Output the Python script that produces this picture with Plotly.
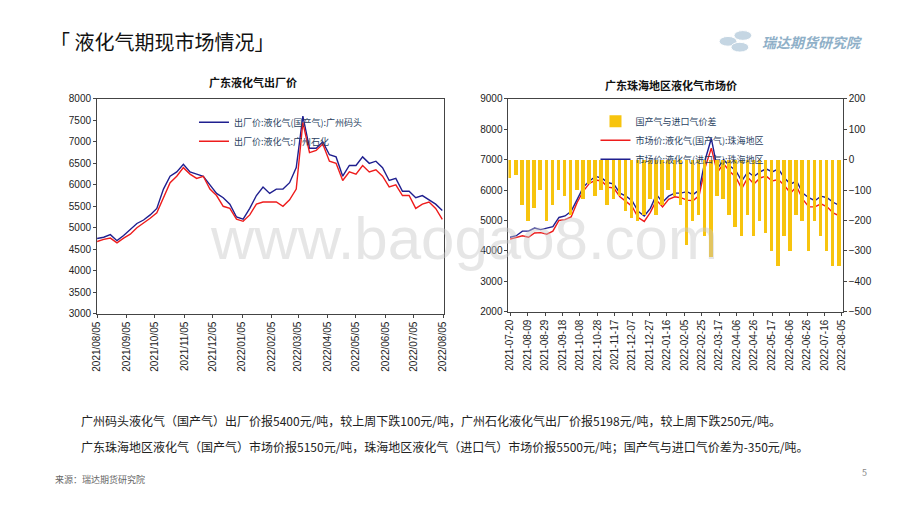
import pandas as pd
import plotly.graph_objects as go

FONT = "Noto Sans CJK SC"

# Left chart data (weekly)
left_dates = pd.date_range("2021-08-05", periods=53, freq="7D")
gz_dock = [4750,4780,4840,4700,4820,4950,5100,5180,5300,5450,5900,6200,6300,6480,6300,6250,6200,6000,5800,5700,
           5550,5250,5200,5450,5750,5950,5800,5900,5900,6050,6400,7600,6850,6850,7000,6700,6650,6200,6450,6450,
           6650,6500,6550,6400,6100,6150,5850,5850,5700,5750,5650,5550,5400]
gz_petro = [4680,4730,4760,4650,4760,4850,5000,5100,5220,5350,5700,6050,6200,6400,6250,6150,6200,5900,5750,5500,
            5450,5200,5150,5300,5550,5600,5600,5600,5500,5650,5900,7450,6750,6800,6950,6550,6500,6100,6300,6250,
            6450,6300,6350,6200,5950,6000,5750,5750,5450,5550,5600,5450,5198]
left_ticks = ["2021-08-05","2021-09-05","2021-10-05","2021-11-05","2021-12-05","2022-01-05","2022-02-05",
              "2022-03-05","2022-04-05","2022-05-05","2022-06-05","2022-07-05","2022-08-05"]

# Right chart data (weekly)
right_dates = pd.date_range("2021-07-20", periods=55, freq="7D")
zh_import = [4450,4500,4650,4650,4750,4700,4750,4800,5100,5150,5300,5700,6100,6300,6450,6400,6250,6200,5900,5800,
             5650,5300,5150,5400,5850,5600,5800,5900,5900,5950,5850,6000,7000,7700,6700,7000,6800,6650,6300,6600,
             6450,6600,6700,6600,6700,6400,6200,6300,5900,5750,5650,5800,5750,5600,5500]
spread = [-60,-50,-150,-200,-160,-100,-200,-150,-100,-120,-180,-100,-130,-80,-120,-100,-150,-130,-120,-170,
          -190,-200,-180,-130,-180,-150,-100,-120,-150,-280,-200,-180,-250,-320,-120,-130,-180,-220,-250,-180,
          -250,-200,-240,-300,-350,-250,-300,-180,-200,-300,-200,-250,-300,-350,-350]
zh_domestic = [a + b for a, b in zip(zh_import, spread)]
right_ticks = ["2021-07-20","2021-08-09","2021-08-29","2021-09-18","2021-10-08","2021-10-28","2021-11-17",
               "2021-12-07","2021-12-27","2022-01-16","2022-02-05","2022-02-25","2022-03-17","2022-04-06",
               "2022-04-26","2022-05-17","2022-06-06","2022-06-26","2022-07-16","2022-08-05"]

W, H, OFF = 904, 502, 8
def px(x): return (x - OFF) / W
def py(y): return 1 - (y - OFF) / H

fig = go.Figure()
fig.add_trace(go.Scatter(x=left_dates, y=gz_dock, name="出厂价:液化气(国产气):广州码头", mode="lines",
                         line=dict(color="#1f1f8f", width=1.4), xaxis="x", yaxis="y", legend="legend"))
fig.add_trace(go.Scatter(x=left_dates, y=gz_petro, name="出厂价:液化气:广州石化", mode="lines",
                         line=dict(color="#ee1c1c", width=1.4), xaxis="x", yaxis="y", legend="legend"))

fig.add_trace(go.Bar(x=right_dates, y=spread, name="国产气与进口气价差", marker=dict(color="#F7C40E", line_width=0),
                     width=4*86400000, xaxis="x2", yaxis="y3", legend="legend2"))
fig.add_trace(go.Scatter(x=right_dates, y=zh_domestic, name="市场价:液化气(国产气):珠海地区", mode="lines",
                         line=dict(color="#ee1c1c", width=1.4), xaxis="x2", yaxis="y2", legend="legend2"))
fig.add_trace(go.Scatter(x=right_dates, y=zh_import, name="市场价:液化气(进口气):珠海地区", mode="lines",
                         line=dict(color="#1f1f8f", width=1.4), xaxis="x2", yaxis="y2", legend="legend2"))

axfont = dict(family="Liberation Sans Narrow, Arial Narrow, Liberation Sans", size=10, color="#222")
common = dict(showline=True, linecolor="#444", linewidth=1, mirror=True, showgrid=False, ticks="outside",
              ticklen=3, tickcolor="#444", tickfont=axfont)

fig.update_layout(
    width=W, height=H, margin=dict(l=0, r=0, t=0, b=0),
    paper_bgcolor="white", plot_bgcolor="white", bargap=0, showlegend=True,
    font=dict(family=FONT),
    xaxis=dict(domain=[px(92), px(443)], anchor="y", type="date", range=["2021-08-05", "2022-08-06"],
               tickvals=left_ticks, ticktext=[t.replace("-", "/") for t in left_ticks], tickangle=-90, **common),
    yaxis=dict(domain=[py(315), py(95)], anchor="x", range=[3000, 8000], dtick=500, **common),
    xaxis2=dict(domain=[px(508), px(846)], anchor="y2", type="date", range=["2021-07-18", "2022-08-06"],
                tickvals=right_ticks, ticktext=right_ticks, tickangle=-90, **common),
    yaxis2=dict(domain=[py(313), py(95)], anchor="x2", range=[2000, 9000], dtick=1000, **common),
    yaxis3=dict(overlaying="y2", side="right", anchor="x2", range=[-500, 200], dtick=100,
                showgrid=False, ticks="outside", ticklen=3, tickfont=axfont, zeroline=False),
    legend=dict(x=px(190), y=py(104), xanchor="left", yanchor="top", bgcolor="rgba(0,0,0,0)",
                font=dict(size=9, family=FONT), tracegroupgap=2, itemwidth=30),
    legend2=dict(x=px(596), y=py(103), xanchor="left", yanchor="top", bgcolor="rgba(0,0,0,0)",
                 font=dict(size=9, family=FONT), tracegroupgap=2, itemwidth=30),
)

ann = [
    dict(x=px(42), y=py(36), text="「 液化气期现市场情况」", font=dict(size=20, color="#111", family=FONT), xanchor="left"),
    dict(x=px(250), y=py(78), text="<b>广东液化气出厂价</b>", font=dict(size=11, color="#111"), xanchor="center"),
    dict(x=px(672), y=py(81), text="<b>广东珠海地区液化气市场价</b>", font=dict(size=11, color="#111"), xanchor="center"),
    dict(x=px(762), y=py(37), text="<b><i>瑞达期货研究院</i></b>", font=dict(size=14, color="#8fb0c8"), xanchor="left"),
    dict(x=px(463), y=py(238), text="www.baogao8.com", font=dict(size=60, color="rgba(200,200,200,0.45)",
                                                             family="Liberation Sans"), xanchor="center"),
    dict(x=px(74), y=py(424), text="广州码头液化气（国产气）出厂价报5400元/吨，较上周下跌100元/吨，广州石化液化气出厂价报5198元/吨，较上周下跌250元/吨。",
         font=dict(size=12, color="#222"), xanchor="left"),
    dict(x=px(74), y=py(451), text="广东珠海地区液化气（国产气）市场价报5150元/吨，珠海地区液化气（进口气）市场价报5500元/吨；国产气与进口气价差为-350元/吨。",
         font=dict(size=12, color="#222"), xanchor="left"),
    dict(x=px(47), y=py(485), text="来源：瑞达期货研究院", font=dict(size=9, color="#666"), xanchor="left"),
    dict(x=px(863), y=py(478), text="5", font=dict(size=9, color="#888"), xanchor="left"),
]
for a in ann:
    a.update(xref="paper", yref="paper", showarrow=False, yanchor="middle")
    fig.add_annotation(**a)

# logo coins
for cx, cy in [(730, 36), (745, 30), (742, 42)]:
    fig.add_shape(type="circle", xref="paper", yref="paper",
                  x0=px(cx-9), x1=px(cx+9), y0=py(cy+5), y1=py(cy-5),
                  fillcolor="#c5d6e3", line=dict(color="white", width=1))

fig.write_html("out.html")
